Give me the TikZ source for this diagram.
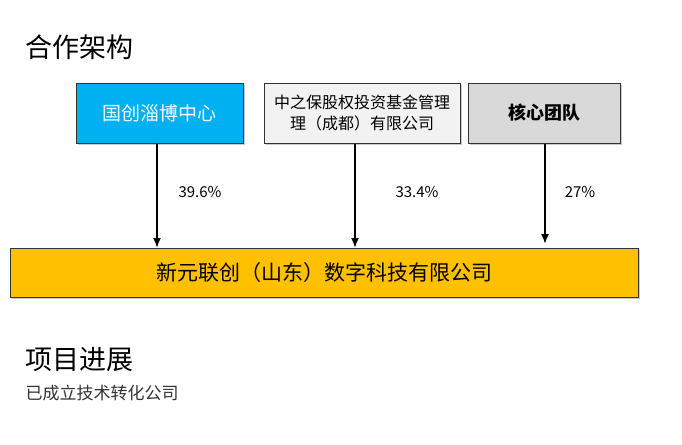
\documentclass[tikz,border=0pt]{standalone}
\usepackage{fontspec}
\setmainfont{Noto Sans CJK SC}
\usetikzlibrary{arrows.meta,shadows}
\definecolor{myblue}{RGB}{0,176,240}
\definecolor{mygold}{RGB}{255,192,0}
\definecolor{lgray}{RGB}{242,242,242}
\definecolor{mgray}{RGB}{217,217,217}
\tikzset{
 topbox/.style={draw=black!80,line width=1pt,minimum height=60pt,inner sep=2pt,align=center,
   drop shadow={shadow xshift=2pt,shadow yshift=-2pt,fill=black!40}},
 arr/.style={-{Latex[length=10pt,width=8pt]},line width=1.8pt},
 pct/.style={font=\fontsize{15}{17}\selectfont,anchor=center}
}
\begin{document}
\begin{tikzpicture}[x=1pt,y=-1pt]
\useasboundingbox[fill=white] (0,0) rectangle (682,444);
\node[anchor=west,font=\fontsize{27}{30}\selectfont] (t1) at (22,47) {合作架构};
\node[topbox,fill=myblue,text=white,minimum width=167pt,font=\fontsize{19}{21}\selectfont] (a) at (159.5,113) {国创淄博中心};
\node[topbox,fill=lgray,minimum width=196pt,font=\fontsize{16}{21}\selectfont] (b) at (362,113) {中之保股权投资基金管理\\理（成都）有限公司};
\node[topbox,fill=mgray,minimum width=152pt,font=\bfseries\fontsize{18}{20}\selectfont] (c) at (544,113) {核心团队};
\node[draw=black!80,line width=1pt,fill=mygold,minimum width=628pt,minimum height=49pt,font=\fontsize{21}{23}\selectfont,
   drop shadow={shadow xshift=2pt,shadow yshift=-2pt,fill=black!40}] (d) at (324,272.5) {新元联创（山东）数字科技有限公司};
\coordinate (da) at (157,248);
\coordinate (db) at (355,248);
\coordinate (dc) at (545,244);
\draw[arr] (a.south -| da) -- (da);
\draw[arr] (b.south -| db) -- (db);
\draw[arr] (c.south -| dc) -- (dc);
\node[pct] (p1) at (200,192) {39.6\%};
\node[pct] (p2) at (417,192) {33.4\%};
\node[pct] (p3) at (580,192) {27\%};
\node[anchor=west,font=\fontsize{27}{30}\selectfont] (t2) at (22,360) {项目进展};
\node[anchor=west,font=\fontsize{17}{20}\selectfont,text=black!80] (t3) at (22,393) {已成立技术转化公司};
\end{tikzpicture}
\end{document}
